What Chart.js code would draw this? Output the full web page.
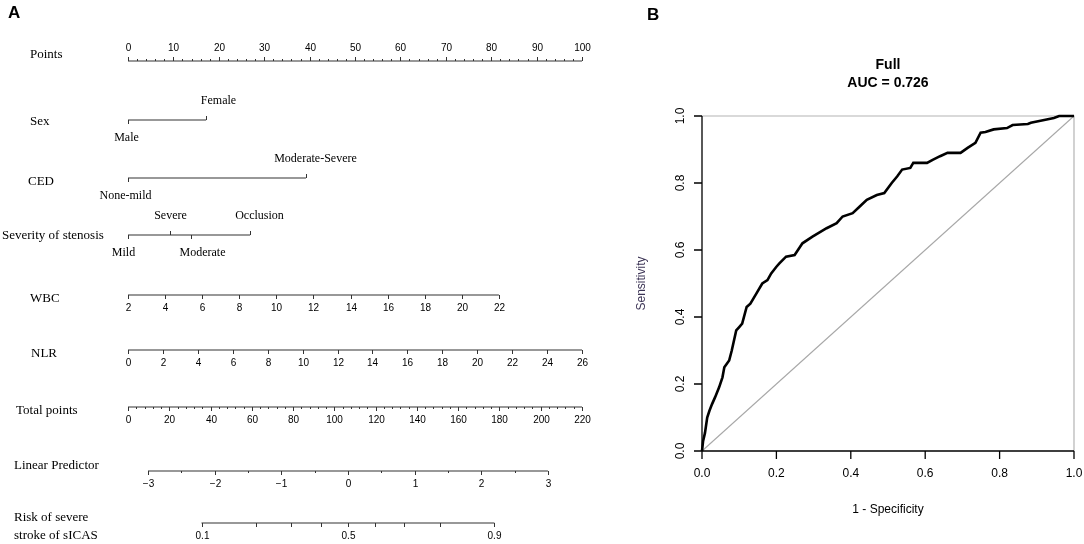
<!DOCTYPE html>
<html>
<head>
<meta charset="utf-8">
<script src="https://cdn.jsdelivr.net/npm/chart.js@4.4.0/dist/chart.umd.min.js"></script>
<style>
body { margin: 0; background: #fff; }
#wrap { position: relative; width: 1084px; height: 544px; overflow: hidden; }
#nomo { position: absolute; left: 0; top: 0; }
#roc { position: absolute; left: 620px; top: 0; }
</style>
</head>
<body>
<div id="wrap">
  <canvas id="nomo" width="620" height="544"></canvas>
  <canvas id="roc" width="464" height="544"></canvas>
</div>
<script>
// ---- Panel A: nomogram values ----
const pointsTicks = [0, 10, 20, 30, 40, 50, 60, 70, 80, 90, 100];
const pointsMinorStep = 2;
const sexLevels = ['Male', 'Female'];
const sexPoints = [0, 17.2];
const cedLevels = ['None-mild', 'Moderate-Severe'];
const cedPoints = [0, 39.2];
const stenosisLevels = ['Mild', 'Severe', 'Moderate', 'Occlusion'];
const stenosisPoints = [0, 9.3, 13.9, 26.9];
const wbcTicks = [2, 4, 6, 8, 10, 12, 14, 16, 18, 20, 22];
const wbcMaxPoints = 81.7;     // points for WBC = 22
const nlrTicks = [0, 2, 4, 6, 8, 10, 12, 14, 16, 18, 20, 22, 24, 26];
const nlrMaxPoints = 100;      // points for NLR = 26
const totalTicks = [0, 20, 40, 60, 80, 100, 120, 140, 160, 180, 200, 220];
const totalMinorStep = 4;
const lpTicks = [-3, -2, -1, 0, 1, 2, 3];
const lpMinorStep = 0.5;
const lpIntercept = -3.30;     // linear predictor at 0 total points
const lpPerPoint = 0.03096;    // linear predictor per total point
const riskTicks = [0.1, 0.2, 0.3, 0.4, 0.5, 0.6, 0.7, 0.8, 0.9];
const riskLabelled = [0.1, 0.5, 0.9];

// ---- Panel B: ROC curve values ----
const rocFpr = [0, 0.003, 0.008, 0.014, 0.02, 0.027, 0.035, 0.046, 0.055, 0.06, 0.073, 0.08, 0.092, 0.1,
  0.108, 0.12, 0.13, 0.146, 0.162, 0.176, 0.186, 0.2, 0.208, 0.226, 0.249, 0.27, 0.297, 0.335, 0.362,
  0.378, 0.405, 0.424, 0.443, 0.47, 0.49, 0.51, 0.525, 0.538, 0.56, 0.568, 0.605, 0.62, 0.64, 0.66,
  0.695, 0.714, 0.735, 0.749, 0.762, 0.784, 0.82, 0.835, 0.876, 0.884, 0.92, 0.946, 0.96, 1.0];
const rocTpr = [0, 0.03, 0.054, 0.1, 0.12, 0.14, 0.16, 0.19, 0.22, 0.25, 0.27, 0.3, 0.36, 0.37,
  0.38, 0.43, 0.44, 0.47, 0.5, 0.51, 0.53, 0.55, 0.56, 0.58, 0.585, 0.62, 0.64, 0.665, 0.68,
  0.70, 0.71, 0.73, 0.75, 0.764, 0.77, 0.80, 0.82, 0.84, 0.845, 0.86, 0.86, 0.869, 0.88, 0.89,
  0.89, 0.905, 0.92, 0.95, 0.952, 0.96, 0.964, 0.973, 0.976, 0.98, 0.988, 0.994, 1.0, 1.0];
const rocTicks = [0, 0.2, 0.4, 0.6, 0.8, 1.0];
const rocTitle = 'Full';
const aucValue = 0.726;

// ---- conversions onto the Points scale ----
const last = a => a[a.length - 1];
const wbcToPts = v => (v - wbcTicks[0]) / (last(wbcTicks) - wbcTicks[0]) * wbcMaxPoints;
const nlrToPts = v => v / last(nlrTicks) * nlrMaxPoints;
const totalToPts = t => t / last(totalTicks) * last(pointsTicks);
const lpToPts = lp => totalToPts((lp - lpIntercept) / lpPerPoint);
const riskToPts = p => lpToPts(Math.log(p / (1 - p)));

function steps(from, to, step) {
  const out = [];
  for (let v = from; v <= to + 1e-9; v += step) out.push(Math.round(v * 1000) / 1000);
  return out;
}
const fmtMinus = v => String(v).replace('-', '\u2212');

// layout of rows (pixel rows on the y scale) and their labels
const rows = [
  { name: ['Points'], y: 61, lx: 30, ly: [55], kind: 'scale', above: true,
    ticks: steps(0, 100, pointsMinorStep), major: pointsTicks, labelled: pointsTicks, toPts: v => v },
  { name: ['Sex'], y: 120, lx: 30, ly: [122], kind: 'cat',
    levels: sexLevels, pts: sexPoints, up: [false, true], dx: [-2, 12] },
  { name: ['CED'], y: 178, lx: 28, ly: [182], kind: 'cat',
    levels: cedLevels, pts: cedPoints, up: [false, true], dx: [-3, 9] },
  { name: ['Severity of stenosis'], y: 235, lx: 2, ly: [236], kind: 'cat',
    levels: stenosisLevels, pts: stenosisPoints, up: [false, true, false, true], dx: [-5, 0, 11, 9] },
  { name: ['WBC'], y: 295, lx: 30, ly: [299], kind: 'scale', above: false,
    ticks: wbcTicks, major: wbcTicks, labelled: wbcTicks, toPts: wbcToPts },
  { name: ['NLR'], y: 350, lx: 31, ly: [354], kind: 'scale', above: false,
    ticks: nlrTicks, major: nlrTicks, labelled: nlrTicks, toPts: nlrToPts },
  { name: ['Total points'], y: 407, lx: 16, ly: [411], kind: 'scale', above: false,
    ticks: steps(0, 220, totalMinorStep), major: totalTicks, labelled: totalTicks, toPts: totalToPts },
  { name: ['Linear Predictor'], y: 471, lx: 14, ly: [466], kind: 'scale', above: false,
    ticks: steps(lpTicks[0], last(lpTicks), lpMinorStep), major: lpTicks, labelled: lpTicks, toPts: lpToPts },
  { name: ['Risk of severe', 'stroke of sICAS'], y: 523, lx: 14, ly: [518, 536], kind: 'scale', above: false,
    ticks: riskTicks, major: riskTicks, labelled: riskLabelled, toPts: riskToPts }
];

// axis lines of every row as line datasets
const rowDatasets = rows.map(r => {
  let a, b;
  if (r.kind === 'cat') { a = Math.min(...r.pts); b = Math.max(...r.pts); }
  else { a = r.toPts(r.ticks[0]); b = r.toPts(last(r.ticks)); }
  return {
    data: [{ x: a, y: r.y }, { x: b, y: r.y }],
    showLine: true, borderColor: '#333', borderWidth: 1.2,
    pointRadius: 0, clip: false
  };
});

const nomoPlugin = {
  id: 'nomoPlugin',
  afterDatasetsDraw(chart) {
    const ctx = chart.ctx;
    const xs = chart.scales.x, ys = chart.scales.y;
    ctx.save();
    ctx.fillStyle = '#000';
    ctx.font = 'bold 17px "Liberation Sans", Arial, sans-serif';
    ctx.textBaseline = 'middle';
    ctx.fillText('A', 8, 13);

    rows.forEach(r => {
      const y = ys.getPixelForValue(r.y);
      ctx.fillStyle = '#000';
      ctx.textAlign = 'left';
      ctx.textBaseline = 'middle';
      ctx.font = '13px "Liberation Serif", "Times New Roman", serif';
      r.name.forEach((t, i) => ctx.fillText(t, r.lx, r.ly[i]));

      ctx.strokeStyle = '#333';
      ctx.lineWidth = 1;
      if (r.kind === 'cat') {
        ctx.font = '12px "Liberation Serif", "Times New Roman", serif';
        ctx.textAlign = 'center';
        r.levels.forEach((lev, i) => {
          const px = Math.round(xs.getPixelForValue(r.pts[i])) + 0.5;
          const d = r.up[i] ? -1 : 1;
          ctx.beginPath(); ctx.moveTo(px, y); ctx.lineTo(px, y + d * 4); ctx.stroke();
          ctx.fillText(lev, px + r.dx[i], y + (r.up[i] ? -19 : 18));
        });
      } else {
        const d = r.above ? -1 : 1;
        ctx.font = '10px "Liberation Sans", Arial, sans-serif';
        ctx.textAlign = 'center';
        r.ticks.forEach(v => {
          const px = Math.round(xs.getPixelForValue(r.toPts(v))) + 0.5;
          const isMajor = r.major.some(m => Math.abs(m - v) < 1e-6);
          ctx.beginPath(); ctx.moveTo(px, y); ctx.lineTo(px, y + d * (isMajor ? 4 : 2)); ctx.stroke();
          if (r.labelled.some(m => Math.abs(m - v) < 1e-6)) {
            ctx.fillText(fmtMinus(v), px, y + d * 13);
          }
        });
      }
    });
    ctx.restore();
  }
};

new Chart(document.getElementById('nomo'), {
  type: 'scatter',
  data: { datasets: rowDatasets },
  options: {
    responsive: false,
    animation: false,
    devicePixelRatio: 1,
    layout: { padding: { left: 128, right: 38, top: 0, bottom: 0 } },
    plugins: { legend: { display: false }, tooltip: { enabled: false } },
    scales: {
      x: { type: 'linear', min: pointsTicks[0], max: last(pointsTicks), display: false },
      y: { type: 'linear', min: 0, max: 544, reverse: true, display: false }
    }
  },
  plugins: [nomoPlugin]
});

// ---- Panel B ----
const rocPlugin = {
  id: 'rocPlugin',
  beforeDatasetsDraw(chart) {
    const ctx = chart.ctx, xs = chart.scales.x, ys = chart.scales.y;
    ctx.save();
    ctx.strokeStyle = '#b4b4b4';
    ctx.lineWidth = 1.2;
    const x0 = xs.getPixelForValue(0), x1 = xs.getPixelForValue(1);
    const y0 = ys.getPixelForValue(0), y1 = ys.getPixelForValue(1);
    ctx.beginPath();
    ctx.moveTo(x0, y1); ctx.lineTo(x1, y1); ctx.lineTo(x1, y0);
    ctx.stroke();
    ctx.restore();
  },
  afterDraw(chart) {
    const ctx = chart.ctx, xs = chart.scales.x, ys = chart.scales.y, area = chart.chartArea;
    const x0 = xs.getPixelForValue(0), x1 = xs.getPixelForValue(1);
    const y0 = ys.getPixelForValue(0), y1 = ys.getPixelForValue(1);
    ctx.save();
    ctx.strokeStyle = '#000';
    ctx.fillStyle = '#000';
    ctx.lineWidth = 1.3;
    ctx.beginPath();
    ctx.moveTo(x0, y1); ctx.lineTo(x0, y0);
    ctx.moveTo(x0, y0); ctx.lineTo(x1, y0);
    rocTicks.forEach(t => {
      const px = xs.getPixelForValue(t), py = ys.getPixelForValue(t);
      ctx.moveTo(px, y0); ctx.lineTo(px, y0 + 8);
      ctx.moveTo(x0, py); ctx.lineTo(x0 - 8, py);
    });
    ctx.stroke();

    ctx.font = '12px "Liberation Sans", Arial, sans-serif';
    ctx.textAlign = 'center';
    ctx.textBaseline = 'middle';
    rocTicks.forEach(t => {
      ctx.fillText(t.toFixed(1), xs.getPixelForValue(t), y0 + 23);
      ctx.save();
      ctx.translate(x0 - 21, ys.getPixelForValue(t));
      ctx.rotate(-Math.PI / 2);
      ctx.fillText(t.toFixed(1), 0, 0);
      ctx.restore();
    });
    const cx = (area.left + area.right) / 2;
    ctx.fillText('1 - Specificity', cx, y0 + 59);
    ctx.save();
    ctx.fillStyle = '#3d3556';
    ctx.translate(x0 - 60, (y0 + y1) / 2);
    ctx.rotate(-Math.PI / 2);
    ctx.fillText('Sensitivity', 0, 0);
    ctx.restore();

    ctx.font = 'bold 14px "Liberation Sans", Arial, sans-serif';
    ctx.fillText(rocTitle, cx, 65);
    ctx.fillText('AUC = ' + aucValue.toFixed(3), cx, 83);
    ctx.font = 'bold 17px "Liberation Sans", Arial, sans-serif';
    ctx.textAlign = 'left';
    ctx.fillText('B', 27, 15);
    ctx.restore();
  }
};

new Chart(document.getElementById('roc'), {
  type: 'scatter',
  data: {
    datasets: [
      {
        label: 'ROC',
        data: rocFpr.map((f, i) => ({ x: f, y: rocTpr[i] })),
        showLine: true, borderColor: '#000', borderWidth: 2.6,
        pointRadius: 0, clip: false, order: 0
      },
      {
        label: 'Chance',
        data: [{ x: 0, y: 0 }, { x: 1, y: 1 }],
        showLine: true, borderColor: '#a8a8a8', borderWidth: 1.1,
        pointRadius: 0, clip: false, order: 1
      }
    ]
  },
  options: {
    responsive: false,
    animation: false,
    devicePixelRatio: 1,
    layout: { padding: { left: 82, right: 10, top: 116, bottom: 93 } },
    plugins: { legend: { display: false }, tooltip: { enabled: false } },
    scales: {
      x: { type: 'linear', min: 0, max: 1, display: false },
      y: { type: 'linear', min: 0, max: 1, display: false }
    }
  },
  plugins: [rocPlugin]
});
</script>
</body>
</html>
